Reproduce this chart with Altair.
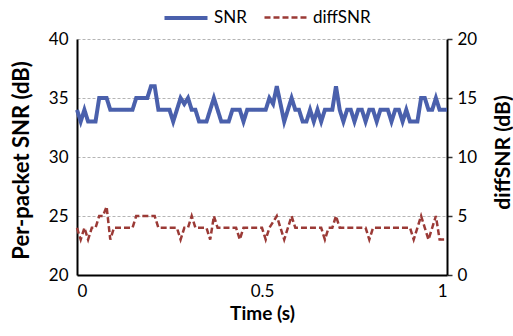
import altair as alt
import pandas as pd

# sample times (s), 10 ms spacing
time = [round(i * 0.01, 2) for i in range(101)]

snr = [34, 33, 34, 33, 33, 33, 35, 35, 35, 34,
       34, 34, 34, 34, 34, 34, 35, 35, 35, 35,
       36, 36, 34, 34, 34, 34, 33, 34, 35, 34.5,
       35, 34, 34, 33, 33, 33, 34, 35, 34, 33,
       33, 33, 34, 34, 34, 33, 34, 34, 34, 34,
       34, 34, 35, 34.5, 36, 34.5, 33, 34, 35, 34,
       34, 33, 33, 34, 33, 34, 33, 34, 34, 34,
       36, 34, 33, 34, 34, 33, 34, 34, 33, 34,
       34, 33, 34, 34, 34, 33, 34, 34, 33, 34,
       33, 33, 33, 35, 35, 34, 34, 35, 34, 34, 34]

diff_snr = [4, 3, 4, 3, 4, 4, 5, 5, 5.8, 3,
            4, 4, 4, 4, 4, 4, 5, 5, 5, 5,
            5, 5, 4, 4, 4, 4, 4, 4, 3, 4,
            4, 5, 4, 4, 4, 4, 3, 5, 4, 4,
            4, 4, 4, 4, 3, 4, 4, 4, 4, 4,
            4, 3, 4, 4.5, 5, 4, 3, 4, 5, 4,
            4, 4, 4, 4, 4, 4, 4, 3, 4, 4,
            5, 4, 4, 4, 4, 4, 4, 4, 4, 3,
            4, 4, 4, 4, 4, 4, 4, 4, 4, 4,
            4, 3, 4, 5, 4, 3, 4, 5, 3, 3, 3]

series_names = ["SNR", "diffSNR"]
series_colors = ["#4a60ac", "#9b3a36"]

df = pd.DataFrame({"t": time, "SNR": snr, "diffSNR": diff_snr})
long = df.melt("t", var_name="series", value_name="v")

FONT = "Lato"

color = alt.Color("series:N", scale=alt.Scale(domain=series_names, range=series_colors),
                  legend=alt.Legend(title=None, orient="none", legendX=85, legendY=-45,
                                    direction="horizontal", symbolType="stroke",
                                    symbolSize=1850, labelFontSize=17, labelFont=FONT,
                                    labelColor="black", labelOffset=4, columnPadding=12))
dash = alt.StrokeDash("series:N", scale=alt.Scale(domain=series_names, range=[[1, 0], [6, 3]]),
                      legend=None)
width_enc = alt.StrokeWidth("series:N", scale=alt.Scale(domain=series_names, range=[4, 2.5]),
                            legend=None)

x = alt.X("t:Q", scale=alt.Scale(domain=[0, 1], nice=False),
          axis=alt.Axis(values=[0, 0.5, 1], format="~g", title="Time (s)", ticks=False,
                        grid=False, domainColor="black", domainWidth=2,
                        labelPadding=8, titleX=185, titleY=38, titleBaseline="middle"))

base = alt.Chart(long)

snr_layer = base.transform_filter(alt.datum.series == "SNR").mark_line().encode(
    x=x,
    y=alt.Y("v:Q", scale=alt.Scale(domain=[20, 40], nice=False),
            axis=alt.Axis(orient="left", values=[20, 25, 30, 35, 40], title="Per-packet SNR (dB)",
                          ticks=False, grid=True, gridDash=[3, 2], gridColor="#b5b5b5",
                          domainColor="black", domainWidth=2, labelPadding=9,
                          titleFontSize=22,
                          titleAngle=270, titleX=-56, titleY=121, titleAlign="center",
                          titleBaseline="middle")),
    color=color, strokeDash=dash, strokeWidth=width_enc,
)

diff_layer = base.transform_filter(alt.datum.series == "diffSNR").mark_line().encode(
    x=x,
    y=alt.Y("v:Q", scale=alt.Scale(domain=[0, 20], nice=False),
            axis=alt.Axis(orient="right", values=[0, 5, 10, 15, 20], title="diffSNR (dB)",
                          ticks=True, tickSize=5, tickColor="#333333", tickWidth=1.5,
                          grid=False, domainColor="black", domainWidth=2, labelPadding=5,
                          titleFontSize=21,
                          titleAngle=270, titleX=56, titleY=113, titleAlign="center",
                          titleBaseline="middle")),
    color=color, strokeDash=dash, strokeWidth=width_enc,
)

chart = alt.layer(snr_layer, diff_layer).resolve_scale(y="independent").properties(
    width=370, height=236,
    autosize=alt.AutoSizeParams(type="none"),
    padding={"left": 77, "top": 39, "right": 66, "bottom": 61},
    background="white",
).configure_view(stroke=None).configure_axis(
    labelFont=FONT, labelFontSize=17, labelColor="black",
    titleFont=FONT, titleFontSize=19, titleFontWeight="bold", titleColor="black",
).configure_legend(labelFontSize=17, labelFont=FONT)

chart.save("out.html", embed_options={"renderer": "svg", "actions": False})
